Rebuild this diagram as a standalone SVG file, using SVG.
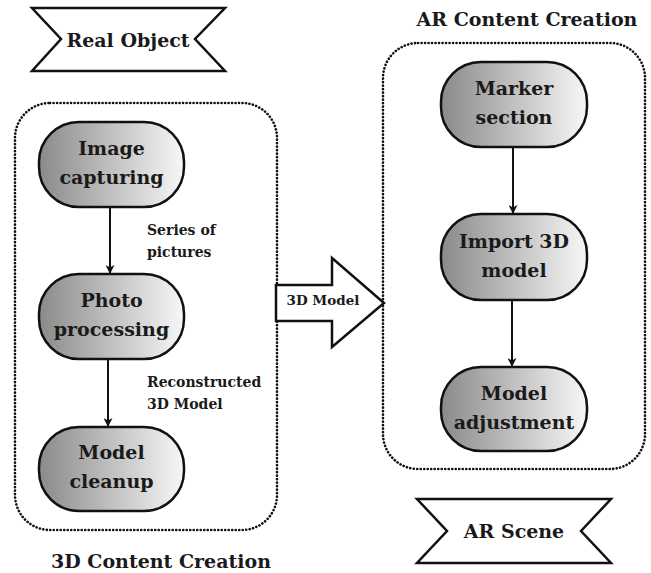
<svg xmlns="http://www.w3.org/2000/svg" width="651" height="573" viewBox="0 0 651 573">
<defs>
<linearGradient id="g" x1="0" y1="0" x2="1" y2="0">
<stop offset="0" stop-color="#8a8a8a"/>
<stop offset="1" stop-color="#f7f7f7"/>
</linearGradient>
<marker id="ah" viewBox="0 0 10 10" refX="9" refY="5" markerWidth="9" markerHeight="9" markerUnits="userSpaceOnUse" orient="auto">
<path d="M0,0 L10,5 L0,10 L3,5 Z" fill="#111"/>
</marker>
<style>
text{font-family:"DejaVu Serif","Liberation Serif",serif;font-weight:bold;fill:#1a1a1a;}
.big{font-size:19px;text-anchor:middle;}
.sm{font-size:14px;}
.node{fill:url(#g);stroke:#111;stroke-width:2.5;}
.cont{fill:none;stroke:#111;stroke-width:2.6;stroke-dasharray:0.1 3.4;stroke-linecap:round;}
.ban{fill:#fff;stroke:#111;stroke-width:2.5;}
.conn{fill:none;stroke:#111;stroke-width:2;}
</style>
</defs>
<g id="container-3d">
<rect class="cont" x="15" y="103" width="262" height="427" rx="35"/>
<text class="big" x="161" y="568">3D Content Creation</text>
</g>
<g id="container-ar">
<rect class="cont" x="383" y="43" width="262" height="426" rx="35"/>
<text class="big" x="527" y="26">AR Content Creation</text>
</g>
<g id="real-object">
<polygon class="ban" points="32,8 225,8 195,39 225,71 32,71 61,39"/>
<text class="big" x="128" y="47">Real Object</text>
</g>
<g id="ar-scene">
<polygon class="ban" points="417,499 611,499 581,531 611,563 417,563 447,531"/>
<text class="big" x="514" y="538">AR Scene</text>
</g>
<g id="image-capturing">
<rect class="node" x="39" y="122" width="145" height="85" rx="40"/>
<text class="big" x="111.5" y="155">Image</text>
<text class="big" x="111.5" y="184">capturing</text>
</g>
<g id="photo-processing">
<rect class="node" x="39" y="274" width="145" height="85" rx="40"/>
<text class="big" x="111.5" y="307">Photo</text>
<text class="big" x="111.5" y="336">processing</text>
</g>
<g id="model-cleanup">
<rect class="node" x="39" y="427" width="145" height="84" rx="40"/>
<text class="big" x="111.5" y="459">Model</text>
<text class="big" x="111.5" y="488">cleanup</text>
</g>
<g id="marker-section">
<rect class="node" x="441" y="62" width="146" height="85" rx="40"/>
<text class="big" x="514" y="95">Marker</text>
<text class="big" x="514" y="124">section</text>
</g>
<g id="import-3d-model">
<rect class="node" x="441" y="214" width="146" height="86" rx="40"/>
<text class="big" x="514" y="247.5">Import 3D</text>
<text class="big" x="514" y="276.5">model</text>
</g>
<g id="model-adjustment">
<rect class="node" x="441" y="367" width="146" height="84" rx="40"/>
<text class="big" x="514" y="399.5">Model</text>
<text class="big" x="514" y="428.5">adjustment</text>
</g>
<g id="big-arrow">
<polygon class="ban" points="276,285 332,285 332,258 384,303 332,347 332,321 276,321"/>
<text x="323" y="305" style="font-size:13.5px;text-anchor:middle;">3D Model</text>
</g>
<g id="connectors">
<line class="conn" x1="110" y1="207" x2="110" y2="273" marker-end="url(#ah)"/>
<line class="conn" x1="108" y1="359" x2="108" y2="426" marker-end="url(#ah)"/>
<line class="conn" x1="513" y1="147" x2="513" y2="213" marker-end="url(#ah)"/>
<line class="conn" x1="512" y1="300" x2="512" y2="366" marker-end="url(#ah)"/>
<text class="sm" x="147" y="235">Series of</text>
<text class="sm" x="147" y="257">pictures</text>
<text class="sm" x="147" y="387">Reconstructed</text>
<text class="sm" x="147" y="409">3D Model</text>
</g>
</svg>
